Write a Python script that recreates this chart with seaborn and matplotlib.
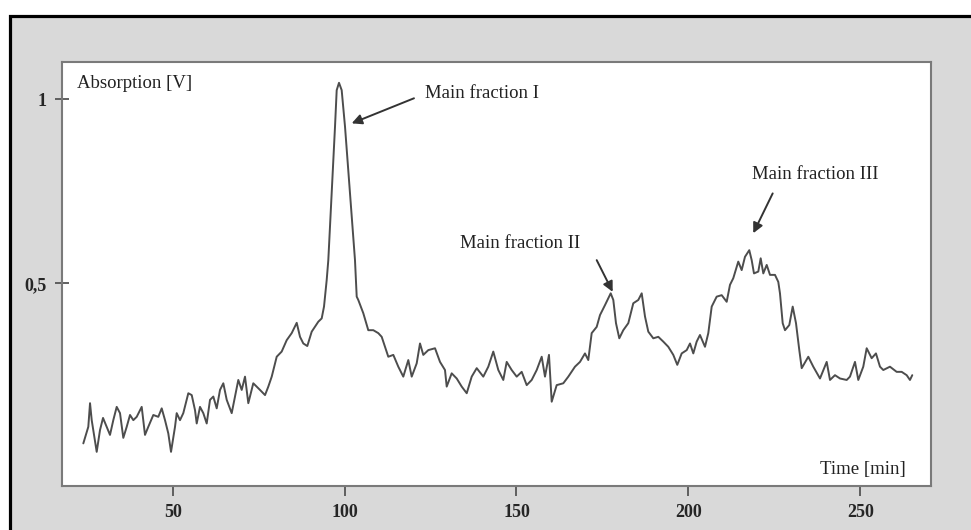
import matplotlib
matplotlib.use("Agg")
import matplotlib.pyplot as plt
from matplotlib.patches import Rectangle
import seaborn as sns
import pandas as pd

# ---- data ----
time_min = [
    24.0, 25.45, 25.95, 26.44, 27.89, 28.85, 29.73, 30.80, 31.76, 32.72,
    33.71, 34.67, 35.63, 36.62, 37.58, 38.54, 39.53, 40.98, 41.94, 42.90,
    44.36, 45.81, 46.80, 47.76, 48.72, 49.51, 50.67, 51.16, 52.12, 53.08,
    54.54, 55.53, 56.49, 56.98, 57.94, 58.90, 59.89, 60.85, 61.81, 62.80,
    63.76, 64.72, 65.71, 67.16, 68.12, 69.08, 70.07, 71.03, 71.99, 73.44,
    75.39, 76.85, 77.81, 78.80, 80.25, 81.70, 83.16, 84.61, 86.07, 87.03,
    87.99, 89.15, 90.43, 92.35, 93.34, 94.01, 94.79, 95.26, 96.25, 97.21,
    97.70, 98.37, 99.15, 100.12, 101.57, 103.02, 103.52, 103.98, 105.44, 106.89,
    108.35, 109.80, 110.79, 111.75, 112.71, 114.17, 115.62, 117.07, 118.53, 119.52,
    120.97, 121.93, 122.89, 124.35, 126.30, 127.75, 129.20, 129.70, 131.15, 132.61,
    134.06, 135.52, 136.97, 138.43, 140.34, 141.80, 143.25, 144.71, 146.16, 147.15,
    148.60, 150.06, 151.51, 152.97, 154.42, 155.88, 157.33, 158.29, 159.45, 160.24,
    161.69, 163.61, 165.07, 167.01, 168.47, 169.92, 170.88, 171.87, 173.33, 174.29,
    175.74, 177.40, 178.16, 178.94, 179.90, 181.06, 182.52, 183.97, 185.43, 186.42,
    187.38, 188.34, 189.79, 191.25, 192.70, 194.15, 195.61, 196.77, 198.05, 199.51,
    200.47, 201.43, 202.41, 203.37, 204.83, 205.79, 206.78, 208.23, 209.69, 211.14,
    212.10, 213.06, 214.51, 215.50, 216.46, 217.71, 218.41, 219.08, 220.33, 221.03,
    221.79, 222.78, 223.74, 225.19, 226.15, 226.64, 227.43, 228.10, 229.35, 230.34,
    231.30, 232.26, 232.96, 234.88, 236.33, 238.28, 240.23, 241.19, 242.64, 244.10,
    246.05, 247.00, 248.46, 249.42, 250.87, 251.86, 253.31, 254.56, 255.73, 256.69,
    258.63, 260.58, 262.04, 263.49, 264.45, 265.12,
]
absorption_v = [
    0.066, 0.111, 0.175, 0.129, 0.043, 0.102, 0.135, 0.111, 0.089, 0.129,
    0.165, 0.148, 0.081, 0.111, 0.143, 0.129, 0.138, 0.165, 0.089, 0.111,
    0.143, 0.138, 0.161, 0.129, 0.093, 0.043, 0.111, 0.148, 0.129, 0.148,
    0.202, 0.197, 0.156, 0.120, 0.165, 0.148, 0.120, 0.184, 0.193, 0.161,
    0.211, 0.229, 0.184, 0.148, 0.193, 0.238, 0.211, 0.247, 0.175, 0.229,
    0.211, 0.197, 0.220, 0.247, 0.301, 0.315, 0.346, 0.365, 0.393, 0.355,
    0.337, 0.330, 0.369, 0.396, 0.405, 0.437, 0.509, 0.563, 0.744, 0.925,
    1.024, 1.044, 1.024, 0.925, 0.744, 0.563, 0.464, 0.455, 0.419, 0.373,
    0.373, 0.365, 0.355, 0.328, 0.301, 0.306, 0.274, 0.247, 0.292, 0.247,
    0.283, 0.337, 0.306, 0.319, 0.324, 0.287, 0.265, 0.220, 0.256, 0.242,
    0.220, 0.202, 0.247, 0.270, 0.247, 0.274, 0.315, 0.265, 0.238, 0.287,
    0.265, 0.247, 0.260, 0.224, 0.238, 0.265, 0.301, 0.247, 0.306, 0.179,
    0.224, 0.229, 0.247, 0.274, 0.287, 0.310, 0.292, 0.365, 0.382, 0.414,
    0.441, 0.473, 0.455, 0.392, 0.351, 0.373, 0.392, 0.446, 0.455, 0.473,
    0.410, 0.369, 0.351, 0.355, 0.342, 0.328, 0.306, 0.279, 0.310, 0.319,
    0.337, 0.310, 0.342, 0.360, 0.328, 0.365, 0.437, 0.464, 0.468, 0.450,
    0.496, 0.514, 0.559, 0.536, 0.572, 0.590, 0.563, 0.527, 0.532, 0.568,
    0.527, 0.550, 0.523, 0.523, 0.504, 0.473, 0.392, 0.373, 0.387, 0.437,
    0.392, 0.319, 0.270, 0.301, 0.274, 0.242, 0.287, 0.238, 0.251, 0.242,
    0.238, 0.247, 0.287, 0.238, 0.274, 0.324, 0.297, 0.310, 0.274, 0.265,
    0.274, 0.260, 0.260, 0.251, 0.238, 0.251,
]
x_ticks = [50, 100, 150, 200, 250]
x_tick_labels = ["50", "100", "150", "200", "250"]
y_ticks = [0.5, 1.0]
y_tick_labels = ["0,5", "1"]
peak_labels = ["Main fraction I", "Main fraction II", "Main fraction III"]

df = pd.DataFrame({"Time [min]": time_min, "Absorption [V]": absorption_v})

sns.set_style("white")
serif = ["Liberation Serif", "DejaVu Serif"]
plt.rcParams["font.family"] = serif

fig = plt.figure(figsize=(9.71, 5.30), dpi=100)
fig.patch.set_facecolor("white")

# outer grey frame
frame = Rectangle((10 / 971, -0.05), 1.1, 1.05 - 15.5 / 530,
                  transform=fig.transFigure, facecolor="#d9d9d9",
                  edgecolor="black", linewidth=2.3, zorder=-1, clip_on=False)
fig.patches.append(frame)

ax = fig.add_axes([61.7 / 971, 1 - 486 / 530, (931 - 61.7) / 971, (486 - 62) / 530])
ax.set_facecolor("white")

sns.lineplot(data=df, x="Time [min]", y="Absorption [V]", ax=ax,
             estimator=None, sort=False, color="#4d4d4d", linewidth=1.4)

ax.set_xlim(17.71, 270.57)
ax.set_ylim(-0.0496, 1.1004)
ax.set_xlabel("")
ax.set_ylabel("")

ax.set_xticks(x_ticks)
ax.set_xticklabels(x_tick_labels, fontweight="bold", fontsize=13)
ax.set_yticks(y_ticks)
ax.set_yticklabels(y_tick_labels, fontweight="bold", fontsize=13)
ax.tick_params(axis="x", bottom=True, direction="out", length=7, width=1.3,
               color="#555555", pad=6)
ax.tick_params(axis="y", left=True, direction="inout", length=10, width=1.3,
               color="#555555", pad=6)

for s in ax.spines.values():
    s.set_visible(True)
    s.set_color("#7a7a7a")
    s.set_linewidth(1.5)

txt_kw = dict(fontsize=13.5, va="center", color="#222222")
ax.text(22.07, 1.043, "Absorption [V]", ha="left", **txt_kw)
ax.text(263.3, -0.004, "Time [min]", ha="right", **txt_kw)

arrow_kw = dict(arrowstyle="-|>", color="#333333", lw=1.4, mutation_scale=15,
                shrinkA=0, shrinkB=0)
# Main fraction I
ax.annotate("", xy=(102.06, 0.934), xytext=(120.18, 1.002), arrowprops=arrow_kw)
ax.text(123.4, 1.015, peak_labels[0], ha="left", **txt_kw)
# Main fraction II
ax.annotate("", xy=(177.98, 0.477), xytext=(173.33, 0.563), arrowprops=arrow_kw)
ax.text(133.56, 0.607, peak_labels[1], ha="left", **txt_kw)
# Main fraction III
ax.annotate("", xy=(218.87, 0.636), xytext=(224.52, 0.744), arrowprops=arrow_kw)
ax.text(218.4, 0.794, peak_labels[2], ha="left", **txt_kw)

fig.savefig("out.png", dpi=100)
